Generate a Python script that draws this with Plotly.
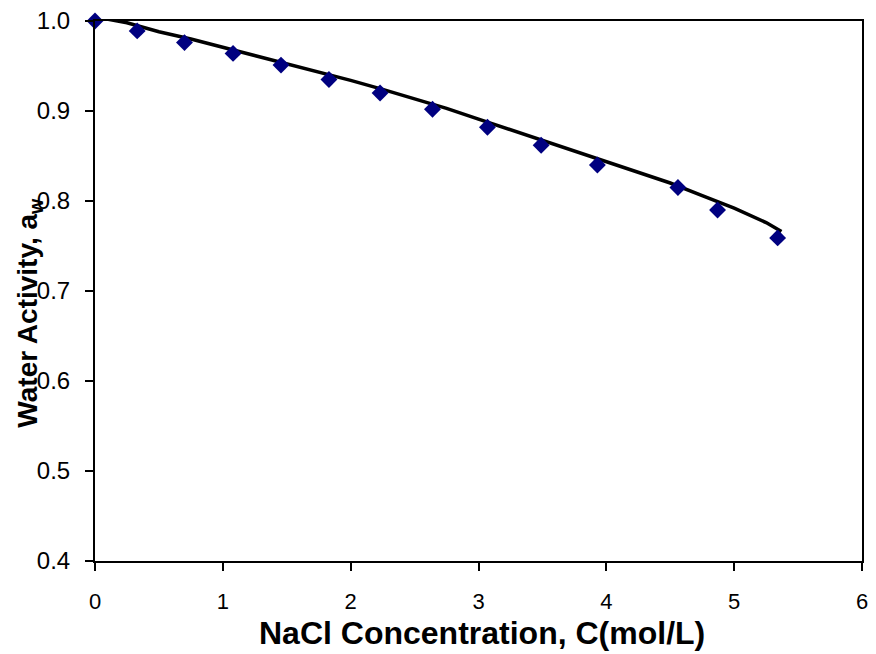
import plotly.graph_objects as go

# Experimental data points
conc = [0.0, 0.33, 0.70, 1.08, 1.455, 1.83, 2.23, 2.64, 3.07, 3.49, 3.93, 4.56, 4.87, 5.34]
aw = [1.000, 0.989, 0.976, 0.964, 0.951, 0.935, 0.920, 0.902, 0.882, 0.862, 0.840, 0.815, 0.790, 0.759]

# Model curve
line_c = [0.0, 0.1, 0.25, 0.5, 0.75, 1.0, 1.25, 1.5, 1.75, 2.0, 2.25, 2.5, 2.75, 3.0,
          3.25, 3.5, 3.75, 4.0, 4.25, 4.5, 4.75, 5.0, 5.25, 5.37]
line_aw = [1.002, 1.002, 0.998, 0.988, 0.980, 0.971, 0.962, 0.952, 0.943, 0.934, 0.924,
           0.914, 0.903, 0.891, 0.879, 0.867, 0.856, 0.844, 0.832, 0.820, 0.806, 0.792,
           0.776, 0.766]

x_ticks = [0, 1, 2, 3, 4, 5, 6]
y_ticks = [0.4, 0.5, 0.6, 0.7, 0.8, 0.9, 1.0]

fig = go.Figure()
fig.add_trace(go.Scatter(x=line_c, y=line_aw, mode="lines",
                         line=dict(color="black", width=3.5), showlegend=False))
fig.add_trace(go.Scatter(x=conc, y=aw, mode="markers",
                         marker=dict(symbol="diamond", color="#000080", size=13),
                         showlegend=False, cliponaxis=False))

fig.update_layout(
    width=876, height=654,
    margin=dict(l=95, r=14, t=21, b=93, autoexpand=False),
    paper_bgcolor="white", plot_bgcolor="white",
    font=dict(family="Liberation Sans, Arial", color="black", size=22),
    xaxis=dict(range=[0, 6], tickvals=x_ticks, ticktext=[str(v) for v in x_ticks],
               showgrid=False, zeroline=False, showline=True, linecolor="black",
               linewidth=2, mirror=True, ticks="outside", ticklen=8, tickwidth=2,
               tickcolor="black", tickfont=dict(size=22), ticklabelstandoff=12,
               automargin=False),
    yaxis=dict(range=[0.4, 1.0], tickvals=y_ticks,
               ticktext=[f"{v:.1f}" for v in y_ticks],
               showgrid=False, zeroline=False, showline=True, linecolor="black",
               linewidth=2, mirror=True, ticks="outside", ticklen=8, tickwidth=2,
               tickcolor="black", tickfont=dict(size=24), ticklabelstandoff=10,
               automargin=False),
    annotations=[
        dict(text="<b>NaCl Concentration, C(mol/L)</b>", xref="paper", yref="paper",
             x=0.505, y=-0.134, xanchor="center", yanchor="middle",
             showarrow=False, font=dict(size=32)),
        dict(text="<b>Water Activity, a<sub>w</sub></b>", xref="paper", yref="paper",
             x=-0.0847, y=0.46, xanchor="center", yanchor="middle", textangle=-90,
             showarrow=False, font=dict(size=28)),
    ],
)

fig.write_html("out.html")
